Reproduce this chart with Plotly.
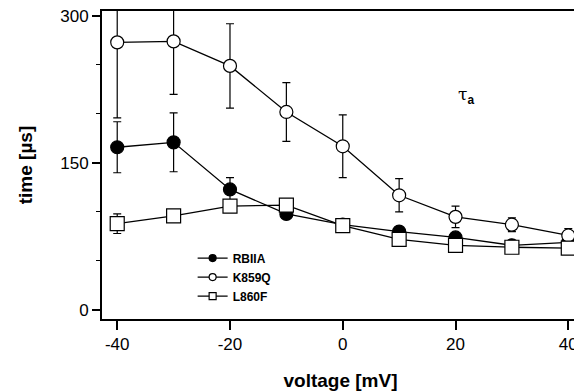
import plotly.graph_objects as go

voltage = [-40, -30, -20, -10, 0, 10, 20, 30, 40]

rbiia = [166, 171, 123, 98, 87, 80, 74, 66, 69]
rbiia_err = [26, 30, 12, 4, 3, 3, 3, 3, 3]

k859q = [273, 274, 249, 202, 167, 117, 95, 87, 76]
k859q_err = [77, 54, 43, 30, 32, 17, 11, 7, 7]

l860f = [88, 96, 106, 107, 86, 72, 66, 64, 63]
l860f_err = [10, 3, 6, 4, 3, 3, 3, 3, 3]

series_names = ["RBIIA", "K859Q", "L860F"]

fig = go.Figure()

def add(name, y, err, symbol, fill):
    fig.add_trace(go.Scatter(
        x=voltage, y=y, name=name, mode="lines+markers", showlegend=False,
        line=dict(color="black", width=1.3),
        marker=dict(symbol=symbol, size=13 if symbol != "square" else 14,
                    color=fill, line=dict(color="black", width=1.2)),
        error_y=dict(type="data", array=err, visible=True,
                     color="black", thickness=1.2, width=4),
    ))
    # small legend entry (legend styling only)
    fig.add_trace(go.Scatter(
        x=[None], y=[None], name=name, mode="lines+markers", showlegend=True,
        line=dict(color="black", width=1.3),
        marker=dict(symbol=symbol, size=7, color=fill,
                    line=dict(color="black", width=1.2)),
    ))

add(series_names[0], rbiia, rbiia_err, "circle", "black")
add(series_names[1], k859q, k859q_err, "circle", "white")
add(series_names[2], l860f, l860f_err, "square", "white")

font_family = "Liberation Sans, Arial, Helvetica, sans-serif"

fig.update_layout(
    width=574, height=383,
    margin=dict(l=94, r=3, t=3, b=72, autoexpand=False),
    paper_bgcolor="white", plot_bgcolor="white",
    font=dict(family=font_family, color="black", size=17),
    showlegend=True,
    legend=dict(x=0.19, y=0.245, xanchor="left", yanchor="top",
                font=dict(size=12, family=font_family, weight="bold"),
                bgcolor="rgba(0,0,0,0)", itemwidth=30,
                tracegroupgap=0, itemsizing="trace"),
    xaxis=dict(range=[-42.7, 41.9], tickvals=[-40, -20, 0, 20, 40],
               ticktext=["-40", "-20", "0", "20", "40"], automargin=False,
               ticklabeloverflow="allow", mirror=True,
               showline=True, linewidth=2, linecolor="black",
               ticks="outside", ticklen=9, tickwidth=1.5, tickcolor="black",
               showgrid=False, zeroline=False,
               title=dict(text="<b>voltage [mV]</b>", font=dict(size=19), standoff=23)),
    yaxis=dict(range=[-9.2, 305], tickvals=[0, 150, 300],
               ticktext=["0", "150", "300"], automargin=False,
               ticklabeloverflow="allow", mirror=True,
               showline=True, linewidth=2, linecolor="black",
               ticks="outside", ticklen=8, tickwidth=1.5, tickcolor="black",
               minor=dict(tickvals=[50, 100, 200, 250], ticks="outside", ticklen=4,
                          tickwidth=1.2, tickcolor="black"),
               showgrid=False, zeroline=False,
               title=dict(text="<b>time [µs]</b>", font=dict(size=19), standoff=23)),
)

fig.add_annotation(x=0.785, y=0.77, xref="paper", yref="paper",
                   text="<span style='font-family:DejaVu Serif, serif'>τ</span><sub><b>a</b></sub>",
                   showarrow=False,
                   font=dict(size=17, family=font_family, color="black"))

fig.write_html("out.html")
